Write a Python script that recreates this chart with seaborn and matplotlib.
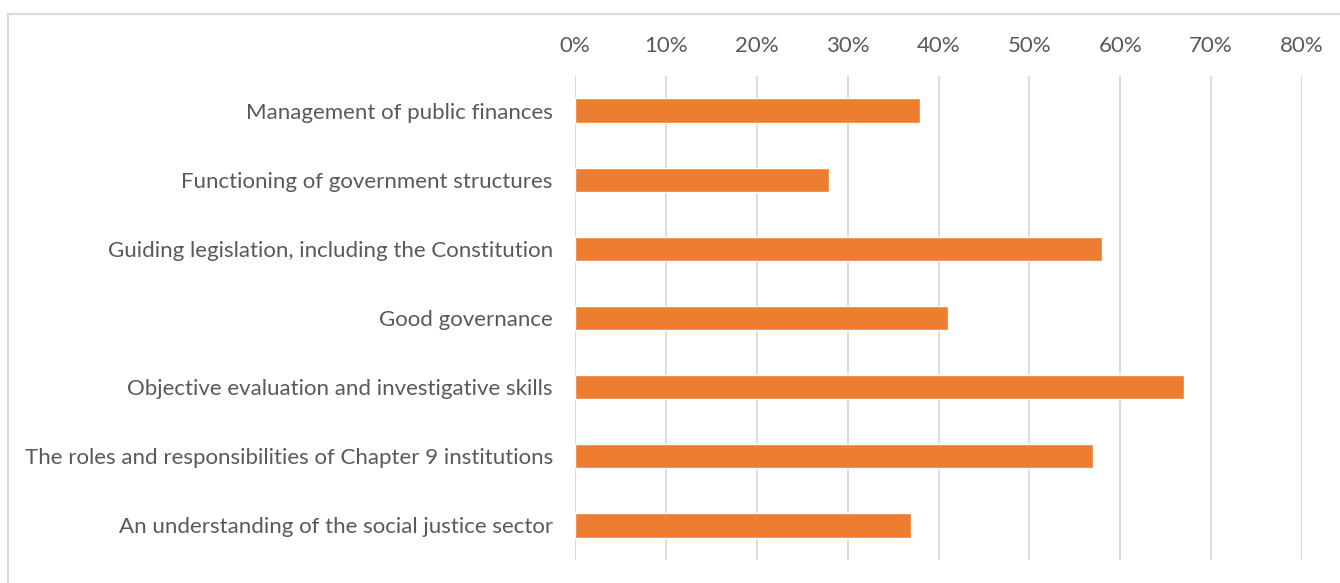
import matplotlib
matplotlib.use("Agg")
import matplotlib.pyplot as plt
import seaborn as sns
import pandas as pd
from matplotlib.patches import Rectangle
from matplotlib.ticker import PercentFormatter

# Survey results (share of respondents)
categories = [
    "Management of public finances",
    "Functioning of government structures",
    "Guiding legislation, including the Constitution",
    "Good governance",
    "Objective evaluation and investigative skills",
    "The roles and responsibilities of Chapter 9 institutions",
    "An understanding of the social justice sector",
]
values = [0.38, 0.28, 0.58, 0.41, 0.67, 0.57, 0.37]
x_ticks = [0, 0.1, 0.2, 0.3, 0.4, 0.5, 0.6, 0.7, 0.8]

df = pd.DataFrame({"category": categories, "share": values})

sns.set_style("white")
plt.rcParams['font.family'] = ['Lato', 'DejaVu Sans']

fig = plt.figure(figsize=(13.4, 5.83), dpi=100)
ax = fig.add_axes([575 / 1340, 1 - 560 / 583, 727 / 1340, 484 / 583])

sns.barplot(data=df, x="share", y="category", orient="h", color="#ED7D31",
            saturation=1, width=0.35, ax=ax)

ax.set_xlim(0, 0.8)
ax.set_xticks(x_ticks)
ax.xaxis.set_major_formatter(PercentFormatter(1.0, decimals=0))
ax.xaxis.tick_top()
ax.grid(axis="x", color="#D9D9D9", linewidth=1.3)
ax.set_axisbelow(True)
for s in ax.spines.values():
    s.set_visible(False)
ax.tick_params(axis="both", length=0, labelsize=16, colors="#595959")
ax.tick_params(axis="x", pad=14.5)
ax.tick_params(axis="y", pad=16)
ax.set_xlabel("")
ax.set_ylabel("")

# light border around the chart area
fig.patches.append(Rectangle((8 / 1340, -0.05), 1.0, 1 - 14 / 583 + 0.05,
                             transform=fig.transFigure, fill=False,
                             edgecolor="#D9D9D9", linewidth=1.5))

fig.savefig("out.png", dpi=100)
